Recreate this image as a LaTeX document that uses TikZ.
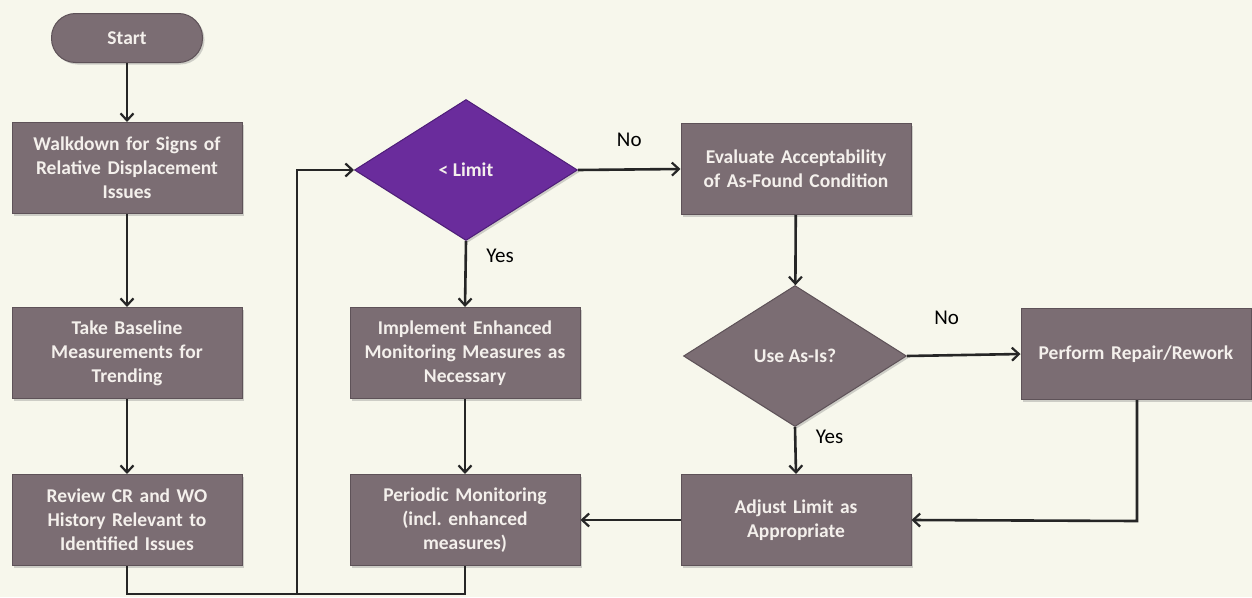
\documentclass[tikz,border=0pt]{standalone}
\usepackage{fontspec}
\setmainfont{Carlito}
\usetikzlibrary{shapes.geometric,arrows.meta,shadows}
\definecolor{bg}{HTML}{F7F7EC}
\definecolor{boxfill}{HTML}{7B6D73}
\definecolor{boxedge}{HTML}{5E5258}
\definecolor{purp}{HTML}{6A2C9C}
\definecolor{purpedge}{HTML}{4E1E78}
\definecolor{boxtext}{HTML}{F4F0EC}
\frenchspacing
\tikzset{
  x=1pt, y=-1pt,
  base/.style={fill=boxfill, draw=boxedge, line width=1pt, text=boxtext,
    font=\fontsize{19.5}{24}\selectfont\bfseries, align=center, inner sep=2pt,
    drop shadow={opacity=0.35, shadow xshift=2pt, shadow yshift=-2pt}},
  procbox/.style={base, rectangle, minimum width=230pt, minimum height=91pt, text width=224pt},
  pill/.style={base, rectangle, rounded corners=24pt, minimum width=151pt, minimum height=49pt},
  decision/.style={base, diamond, inner sep=0pt, minimum width=223pt, minimum height=141pt},
  conn/.style={line width=2.6pt, draw=black!85, -{Straight Barb[length=7pt,width=13pt,line width=2.2pt]}},
  line/.style={line width=2.6pt, draw=black!85},
  lbl/.style={font=\fontsize{21}{24}\selectfont, text=black}
}
\begin{document}
\begin{tikzpicture}
\fill[bg] (0,0) rectangle (1252,597);
\useasboundingbox (0,0) rectangle (1252,597);

\node[pill] (start) at (127,38) {Start};
\node[procbox] (walk) at (127,168) {Walkdown for Signs of\\Relative Displacement\\Issues};
\node[procbox] (base) at (127,353) {Take Baseline\\Measurements for\\Trending};
\node[procbox] (review) at (127,520) {Review CR and WO\\History Relevant to\\Identified Issues};

\node[decision, fill=purp, draw=purpedge] (limit) at (466,170) {< Limit};
\node[procbox] (impl) at (465,353) {Implement Enhanced\\Monitoring Measures as\\Necessary};
\node[procbox] (period) at (465,520) {Periodic Monitoring\\(incl. enhanced\\measures)};

\node[procbox] (eval) at (796,169) {Evaluate Acceptability\\of As-Found Condition};
\node[decision] (useas) at (795,356) {Use As-Is?};
\node[procbox] (adjust) at (796,520) {Adjust Limit as\\Appropriate};
\node[procbox] (repair) at (1136,354) {Perform Repair/Rework};

\coordinate (b1) at (127,594);
\coordinate (b2) at (297,594);
\coordinate (b3) at (297,170);
\coordinate (r1) at (1137,521);

\draw[conn] (start) -- (walk);
\draw[conn] (walk) -- (base);
\draw[conn] (base) -- (review);
\draw[conn] (review.south) -- (b1) -- (b2) -- (b3) -- (limit.west);
\draw[line] (period.south) -- (period.south |- b1) -- (b2);
\draw[conn] (limit.east) -- node[lbl, pos=0.5, above=18pt] (no1) {No} (eval.west);
\draw[conn] (limit.south) -- node[lbl, pos=0.22, right=16pt] (yes1) {Yes} (impl.north);
\draw[conn] (impl) -- (period);
\draw[conn] (eval) -- (useas);
\draw[conn] (useas.east) -- node[lbl, pos=0.35, above=26pt] (no2) {No} (repair.west);
\draw[conn] (useas.south) -- node[lbl, pos=0.2, right=16pt] (yes2) {Yes} (adjust.north);
\draw[conn] (repair.south -| r1) -- (r1) -- (adjust.east);
\draw[conn] (adjust) -- (period);
\end{tikzpicture}
\end{document}
